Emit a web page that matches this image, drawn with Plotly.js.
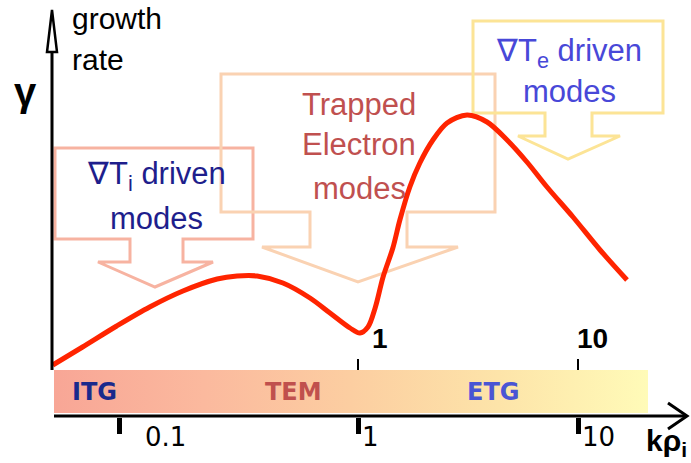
<!DOCTYPE html>
<html>
<head>
<meta charset="utf-8">
<script src="https://cdn.plot.ly/plotly-3.0.1.min.js"></script>
<style>html,body{margin:0;padding:0;background:#fff;}#chart{width:691px;height:463px;}</style>
</head>
<body>
<div id="chart"></div>
<script>
// ---------- data (schematic growth-rate curve) ----------
const kRho  = [0.041, 0.056, 0.080, 0.113, 0.160, 0.229, 0.282, 0.348, 0.456, 0.605, 0.746, 0.920, 1.02, 1.11, 1.20, 1.30, 1.44, 1.55, 1.72, 1.91, 2.19, 2.54, 3.13, 3.86, 4.76, 5.86, 7.23, 9.49, 12.6, 16.7];
const gamma = [0.008, 0.080, 0.164, 0.240, 0.304, 0.352, 0.364, 0.364, 0.336, 0.276, 0.216, 0.156, 0.136, 0.160, 0.240, 0.360, 0.476, 0.588, 0.720, 0.816, 0.908, 0.976, 1.008, 0.980, 0.908, 0.820, 0.720, 0.600, 0.468, 0.348];
const topTickVals = [1, 10];
const topTickText = ['1', '10'];
const bottomTickVals = [0.082, 1, 10];
const bottomTickText = ['0.1', '1', '10'];
const regimeLabels = ['ITG', 'TEM', 'ETG'];
const calloutLines = [
  ['\u2207T<sub>i</sub> driven', 'modes'],
  ['Trapped', 'Electron', 'modes'],
  ['\u2207T<sub>e</sub> driven', 'modes']
];

// ---------- layout helpers (pixel coordinates of decorations) ----------
const W = 691, H = 463;
const FONT = '"Liberation Sans", Arial, sans-serif';
const VFONT = '"DejaVu Sans", Verdana, sans-serif';

const calloutPaths = [
  'M55,148 L253,148 L253,239 L183,239 L183,262 L213,262 L155,287 L98,262 L130,262 L130,239 L55,239 Z',
  'M221,74 L495,74 L495,212 L407,212 L407,247 L458,247 L358,282 L262,247 L310,247 L310,212 L221,212 Z',
  'M473,21 L663,21 L663,113 L592,113 L592,136 L620,136 L568,159 L518,136 L545,136 L545,113 L473,113 Z'
];
const calloutColors = ['#f7b3a1', '#fad2b2', '#fce496'];
const calloutTextColors = ['#1e1e8c', '#c0504f', '#4848d8'];
const calloutX = [156, 359, 569];
const calloutY = [[176, 218], [104, 144, 188], [53, 91]];

const regimeX = [94, 293, 493];
const regimeColors = ['#1a2a8c', '#c0504d', '#4a55d4'];

const shapes = [];
calloutPaths.forEach((p, i) => shapes.push({
  type: 'path', path: p, xref: 'x2', yref: 'y2', layer: 'below',
  line: {color: calloutColors[i], width: 3}, fillcolor: 'rgba(0,0,0,0)'
}));
// y axis line with open arrow head
shapes.push({type: 'line', xref: 'x2', yref: 'y2', x0: 52, x1: 52, y0: 52, y1: 370, line: {color: '#000', width: 3}});
shapes.push({type: 'path', xref: 'x2', yref: 'y2', path: 'M52,10 L47,52 L57,52 Z', line: {color: '#000', width: 2.5}, fillcolor: '#fff'});
// x axis line with arrow
shapes.push({type: 'line', xref: 'x2', yref: 'y2', x0: 54, x1: 686, y0: 416, y1: 416, line: {color: '#000', width: 3}});
shapes.push({type: 'path', xref: 'x2', yref: 'y2', path: 'M668,403 L687,416 L668,429', line: {color: '#000', width: 3}});

const annotations = [];
calloutLines.forEach((lines, i) => lines.forEach((t, j) => annotations.push({
  text: t, xref: 'x2', yref: 'y2', x: calloutX[i], y: calloutY[i][j], showarrow: false,
  xanchor: 'center', yanchor: 'middle', font: {family: FONT, size: 31, color: calloutTextColors[i]}
})));
regimeLabels.forEach((t, i) => annotations.push({
  text: '<b>' + t + '</b>', xref: 'x2', yref: 'y2', x: regimeX[i], y: 392, showarrow: false,
  xanchor: 'center', yanchor: 'middle', font: {family: VFONT, size: 24, color: regimeColors[i]}
}));
const topShift = [12, -3];
topTickVals.forEach((v, i) => annotations.push({
  text: '<b>' + topTickText[i] + '</b>', xref: 'x', yref: 'y2', x: Math.log10(v), y: 338, xshift: topShift[i],
  showarrow: false, xanchor: 'left', yanchor: 'middle', font: {family: FONT, size: 28, color: '#000'}
}));
const bottomShift = [24, 2, 2];
bottomTickVals.forEach((v, i) => annotations.push({
  text: bottomTickText[i], xref: 'x', yref: 'y2', x: Math.log10(v), y: 437, xshift: bottomShift[i],
  showarrow: false, xanchor: 'left', yanchor: 'middle', font: {family: VFONT, size: 26, color: '#000'}
}));
annotations.push({text: 'growth', xref: 'x2', yref: 'y2', x: 70, y: 18, showarrow: false, xanchor: 'left', yanchor: 'middle', font: {family: FONT, size: 30, color: '#000'}});
annotations.push({text: 'rate', xref: 'x2', yref: 'y2', x: 70, y: 59, showarrow: false, xanchor: 'left', yanchor: 'middle', font: {family: FONT, size: 30, color: '#000'}});
annotations.push({text: '<b>\u03b3</b>', xref: 'x2', yref: 'y2', x: 25, y: 92, showarrow: false, xanchor: 'center', yanchor: 'middle', font: {family: FONT, size: 40, color: '#000'}});
annotations.push({text: '<b>k\u03c1<sub>i</sub></b>', xref: 'x2', yref: 'y2', x: 644, y: 442, showarrow: false, xanchor: 'left', yanchor: 'middle', font: {family: FONT, size: 30, color: '#000'}});

// ---------- traces ----------
const bar = {
  type: 'scatter', xaxis: 'x2', yaxis: 'y2', mode: 'lines',
  x: [54, 648, 648, 54, 54], y: [370, 370, 413, 413, 370],
  fill: 'toself', line: {width: 0, color: 'rgba(0,0,0,0)'},
  fillgradient: {type: 'horizontal', colorscale: [[0, '#f8a696'], [0.25, '#fbb99e'], [0.5, '#fccea1'], [0.75, '#fde4a9'], [1, '#fffbb8']]},
  hoverinfo: 'skip'
};
const curve = {
  type: 'scatter', mode: 'lines', x: kRho, y: gamma,
  line: {color: '#ff2400', width: 5, shape: 'spline', smoothing: 0.9},
  hoverinfo: 'skip'
};

const layout = {
  width: W, height: H, margin: {l: 0, r: 0, t: 0, b: 0},
  paper_bgcolor: '#fff', plot_bgcolor: 'rgba(0,0,0,0)', showlegend: false,
  xaxis: {type: 'log', range: [-358 / 220, (W - 358) / 220], anchor: 'free', position: 1 - 370 / H,
          showgrid: false, zeroline: false, showline: false, showticklabels: false,
          ticks: 'inside', ticklen: 11, tickwidth: 2, tickcolor: '#000', tickvals: topTickVals},
  xaxis3: {type: 'log', overlaying: 'x', range: [-358 / 220, (W - 358) / 220], anchor: 'free', position: 1 - 417 / H,
           showgrid: false, zeroline: false, showline: false, showticklabels: false,
           ticks: 'outside', ticklen: 16, tickwidth: 5, tickcolor: '#000', tickvals: bottomTickVals},
  yaxis: {range: [-(H - 367) / 250, 367 / 250], visible: false, fixedrange: true},
  xaxis2: {overlaying: 'x', range: [0, W], visible: false},
  yaxis2: {overlaying: 'y', range: [H, 0], visible: false},
  shapes: shapes, annotations: annotations
};

const ghostBottom = {type: 'scatter', x: [1], y: [0], xaxis: 'x3', mode: 'markers', marker: {opacity: 0}, hoverinfo: 'skip'};

Plotly.newPlot('chart', [bar, ghostBottom, curve], layout, {displayModeBar: false, staticPlot: true});
</script>
</body>
</html>
